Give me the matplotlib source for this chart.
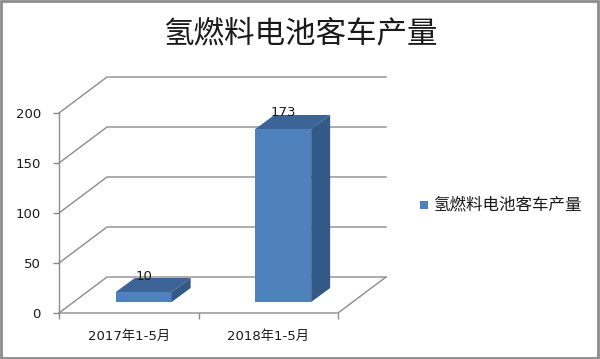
import matplotlib
matplotlib.use("Agg")
import matplotlib.pyplot as plt
from matplotlib.patches import Polygon, Rectangle
import numpy as np

plt.rcParams['font.family'] = ['DejaVu Sans', 'Noto Sans CJK SC']

title = "氢燃料电池客车产量"
categories = ["2017年1-5月", "2018年1-5月"]
series_name = "氢燃料电池客车产量"
values = [10, 173]
yticks = [0, 50, 100, 150, 200]

W, H = 600, 359
fig = plt.figure(figsize=(W / 100, H / 100), dpi=100)

# front plane of the pseudo-3D plot area (pixels)
fx0, fx1, fy0, fy1 = 59, 338, 313, 113
ax = fig.add_axes([fx0 / W, 1 - fy0 / H, (fx1 - fx0) / W, (fy0 - fy1) / H])
ax.set_xlim(-0.5, 1.5)
ax.set_ylim(0, 200)
for s in ax.spines.values():
    s.set_visible(False)

px_x = 2.0 / (fx1 - fx0)   # data units per pixel in x
px_y = 200.0 / (fy0 - fy1)  # data units per pixel in y

# depth offsets
DX, DY = 48 * px_x, 36 * px_y          # full depth
bdx, bdy = 15 * px_x, 11 * px_y        # bar front offset
ddx, ddy = 19 * px_x, 14 * px_y        # bar depth

grid_c = '#8c8c8c'
lw = 1.0
xl, xr = -0.5, 1.5
# walls / gridlines
for t in yticks:
    ax.plot([xl, xl + DX, xr + DX], [t, t + DY, t + DY], color=grid_c, lw=lw,
            clip_on=False, zorder=1, solid_joinstyle='miter')
# front y axis line and floor
ax.plot([xl, xl], [0, 200], color=grid_c, lw=lw, clip_on=False, zorder=1)
ax.plot([xl, xr, xr + DX], [0, 0, DY], color=grid_c, lw=lw, clip_on=False, zorder=1)

# bars
x = np.arange(len(categories))
width = 0.40
front_c, top_c, side_c = '#4F81BD', '#3C6496', '#335A86'
ax.bar(x + bdx, values, width=width, bottom=bdy, color=front_c, zorder=3,
       clip_on=False, edgecolor='none')
for xi, v in zip(x, values):
    x0 = xi + bdx - width / 2
    x1 = xi + bdx + width / 2
    ytop = v + bdy
    ax.add_patch(Polygon([(x0, ytop), (x1, ytop), (x1 + ddx, ytop + ddy), (x0 + ddx, ytop + ddy)],
                         closed=True, facecolor=top_c, edgecolor='none', zorder=3, clip_on=False))
    ax.add_patch(Polygon([(x1, bdy), (x1, ytop), (x1 + ddx, ytop + ddy), (x1 + ddx, bdy + ddy)],
                         closed=True, facecolor=side_c, edgecolor='none', zorder=3, clip_on=False))
    ax.text(xi + bdx, ytop + 16 * px_y, f"{v}", ha='center', va='center',
            fontsize=9.5, color='#1a1a1a', zorder=5)

# ticks
ax.set_yticks(yticks)
ax.set_yticklabels([str(t) for t in yticks], fontsize=9.5, color='#1a1a1a')
ax.tick_params(axis='y', length=4, width=1, color=grid_c, pad=9)
ax.set_xticks(x)
ax.set_xticklabels(categories, fontsize=9.5, color='#1a1a1a')
ax.tick_params(axis='x', which='major', length=0, pad=12)
ax.set_xticks([-0.5, 0.5, 1.5], minor=True)
ax.tick_params(axis='x', which='minor', length=4, width=1, color=grid_c)

# title
fig.text(0.5, 1 - 34 / H, title, ha='center', va='center', fontsize=22,
         family=['Noto Sans CJK SC', 'DejaVu Sans'], color='#1a1a1a')

# legend
fig.patches.append(Rectangle((420 / W, 1 - 209 / H), 8 / W, 8 / H, transform=fig.transFigure,
                             facecolor=front_c, edgecolor='none'))
fig.text(433 / W, 1 - 205 / H, series_name, ha='left', va='center', fontsize=11.9,
         family=['Noto Sans CJK SC', 'DejaVu Sans'], color='#1a1a1a')

# chart border
fig.patches.append(Rectangle((1 / W, 1 / H), 597 / W, 357 / H, transform=fig.transFigure,
                             facecolor='none', edgecolor='#8c8c8c', lw=2))

fig.savefig('out.png', dpi=100, facecolor='white')
